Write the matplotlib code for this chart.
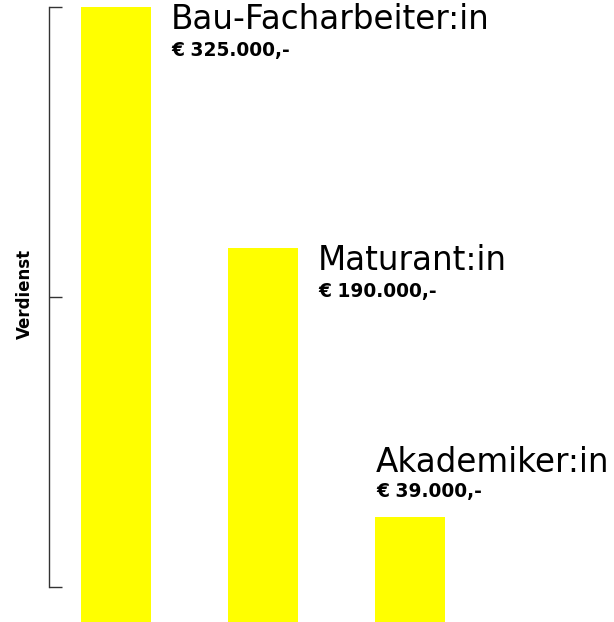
import matplotlib
matplotlib.use("Agg")
import matplotlib.pyplot as plt

categories = ["Bau-Facharbeiter:in", "Maturant:in", "Akademiker:in"]
values = [325000, 190000, 39000]
value_labels = ["€ 325.000,-", "€ 190.000,-", "€ 39.000,-"]
axis_label = "Verdienst"

DPI = 100
fig = plt.figure(figsize=(6.14, 6.22), dpi=DPI)
left = 49.5 / 614
ax = fig.add_axes([left, 0, 1 - left, 1])

width = 0.476
x = list(range(len(categories)))
baseline = -19600
ax.bar(x, [v - baseline for v in values], bottom=baseline, width=width,
       color="#FFFF00", edgecolor="none")

ax.set_xlim(-0.452, 3.388)
ax.set_ylim(baseline, 328900)

for s in ["top", "right", "bottom"]:
    ax.spines[s].set_visible(False)
ax.spines["left"].set_bounds(0, 325000)
ax.spines["left"].set_color("#333333")
ax.spines["left"].set_linewidth(1.0)
ax.set_xticks([])
ax.set_yticks([0, 162500, 325000])
ax.set_yticklabels([])
ax.tick_params(axis="y", direction="in", length=9, width=1.0, color="#333333")

fig.text(25 / 614, 1 - 294 / 622, axis_label, rotation=90, ha="center", va="center",
         fontsize=12, fontweight="bold", family="DejaVu Sans")

px = 72 / DPI
title_font = dict(fontsize=23.5, family="DejaVu Sans", fontweight="normal", color="black")
value_font = dict(fontsize=13.4, family="DejaVu Sans", fontweight="bold", color="black")

for i, (cat, v, lab) in enumerate(zip(categories, values, value_labels)):
    if i < 2:
        anchor = (i + width / 2, v)
        dx = 20
        t_dy = -22
        v_dy = -49
    else:
        anchor = (i - width / 2, v)
        dx = 1
        t_dy = 45
        v_dy = 20
    ax.annotate(cat, xy=anchor, xytext=(dx * px, t_dy * px), textcoords="offset points",
                ha="left", va="baseline", **title_font)
    ax.annotate(lab, xy=anchor, xytext=(dx * px, v_dy * px), textcoords="offset points",
                ha="left", va="baseline", **value_font)

fig.savefig("out.png", dpi=DPI)
